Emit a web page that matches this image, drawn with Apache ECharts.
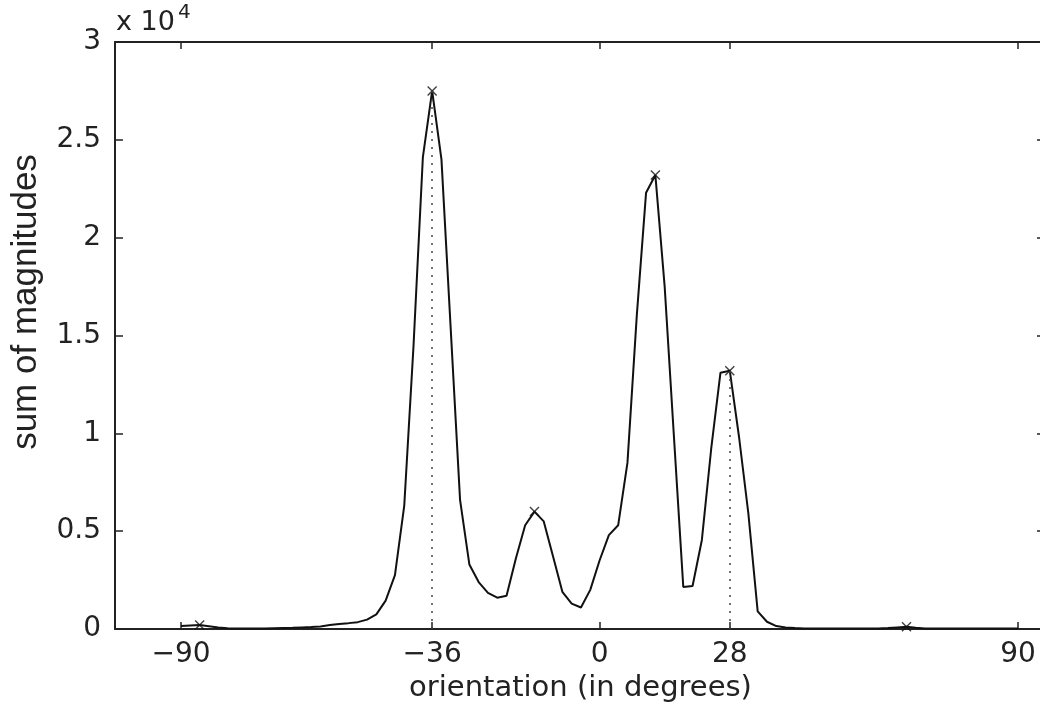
<!DOCTYPE html>
<html>
<head>
<meta charset="utf-8">
<title>orientation histogram</title>
<script src="https://cdn.jsdelivr.net/npm/echarts@6/dist/echarts.min.js"></script>
<style>
    html, body { margin: 0; padding: 0; background: #fff; }
    #main { width: 1040px; height: 704px; }
</style>
</head>
<body>
<div id="main"></div>
<script>
    // orientation bins (degrees), one every 2 degrees from -90 to 90
    var orientation = [
        -90, -88, -86, -84, -82, -80, -78, -76, -74, -72,
        -70, -68, -66, -64, -62, -60, -58, -56, -54, -52,
        -50, -48, -46, -44, -42, -40, -38, -36, -34, -32,
        -30, -28, -26, -24, -22, -20, -18, -16, -14, -12,
        -10, -8, -6, -4, -2, 0, 2, 4, 6, 8,
        10, 12, 14, 16, 18, 20, 22, 24, 26, 28,
        30, 32, 34, 36, 38, 40, 42, 44, 46, 48,
        50, 52, 54, 56, 58, 60, 62, 64, 66, 68,
        70, 72, 74, 76, 78, 80, 82, 84, 86, 88,
        90
    ];
    // summed gradient magnitude per bin (same order as above)
    var magnitude = [
        150, 180, 200, 140, 80, 40, 30, 25, 25, 30,
        40, 50, 60, 80, 100, 130, 200, 260, 300, 350,
        480, 750, 1450, 2750, 6300, 14500, 24100, 27500, 24000, 15300,
        6600, 3300, 2400, 1850, 1600, 1700, 3600, 5300, 6000, 5500,
        3700, 1900, 1300, 1100, 2000, 3500, 4800, 5300, 8500, 16000,
        22300, 23200, 17500, 9800, 2150, 2200, 4550, 9200, 13100, 13200,
        9800, 5900, 900, 370, 150, 80, 50, 30, 20, 20,
        20, 20, 20, 20, 20, 30, 50, 80, 110, 60,
        30, 20, 20, 20, 20, 20, 20, 20, 20, 20,
        20
    ];
    var peakDeg = [-86, -36, -14, 12, 28, 66];
    var dominantDeg = [-36, 28];
    var xTicks = [-90, -36, 0, 28, 90];

    function magAt(deg) { return magnitude[orientation.indexOf(deg)]; }

    var lineData = orientation.map(function (d, i) { return [d, magnitude[i]]; });
    var peakData = peakDeg.map(function (d) { return [d, magAt(d)]; });
    var guideLines = dominantDeg.map(function (d) {
        return [{ coord: [d, 0] }, { coord: [d, magAt(d)] }];
    });

    var font = 'DejaVu Sans';
    var ink = '#222';
    var xMin = -104.2, xMax = 96;

    var myChart = echarts.init(document.getElementById('main'));
    var option = {
        animation: false,
        backgroundColor: '#fff',
        // plot box runs a little past the right edge of the picture
        grid: { left: 115, right: -6, top: 42, bottom: 75, outerBoundsMode: 'none', containLabel: false },
        xAxis: [{
            type: 'value', position: 'bottom', min: xMin, max: xMax,
            axisLine: { show: true, onZero: false, lineStyle: { color: ink, width: 2 } },
            axisTick: { show: true, inside: true, length: 7, customValues: xTicks, lineStyle: { color: ink, width: 1.5 } },
            axisLabel: {
                customValues: xTicks, margin: 12, color: '#222', fontFamily: font, fontSize: 28,
                formatter: function (v) { return String(v).replace('-', '\u2212'); }
            },
            splitLine: { show: false },
            name: 'orientation (in degrees)', nameLocation: 'middle', nameGap: 45,
            nameTextStyle: { color: '#222', fontFamily: font, fontSize: 29 }
        }, {
            type: 'value', position: 'top', min: xMin, max: xMax,
            axisLine: { show: true, onZero: false, lineStyle: { color: ink, width: 2 } },
            axisTick: { show: true, inside: true, length: 7, customValues: xTicks, lineStyle: { color: ink, width: 1.5 } },
            axisLabel: { show: false },
            splitLine: { show: false }
        }],
        yAxis: [{
            type: 'value', position: 'left', min: 0, max: 30000, interval: 5000,
            axisLine: { show: true, onZero: false, lineStyle: { color: ink, width: 2 } },
            axisTick: { show: true, inside: true, length: 8, lineStyle: { color: ink, width: 1.5 } },
            axisLabel: {
                margin: 14, color: '#222', fontFamily: font, fontSize: 28,
                formatter: function (v) { return String(v / 10000); }
            },
            splitLine: { show: false }
        }, {
            type: 'value', position: 'right', min: 0, max: 30000, interval: 5000,
            axisLine: { show: true, onZero: false, lineStyle: { color: ink, width: 2 } },
            axisTick: { show: true, inside: true, length: 9, lineStyle: { color: ink, width: 1.5 } },
            axisLabel: { show: false },
            splitLine: { show: false }
        }],
        graphic: [{
            type: 'text', left: 116, top: 9,
            style: { text: 'x 10', fontFamily: font, fontSize: 27, fill: '#222' }
        }, {
            type: 'text', left: 178, top: 3,
            style: { text: '4', fontFamily: font, fontSize: 20, fill: '#222' }
        }, {
            type: 'text', x: 26, y: 302, rotation: Math.PI / 2,
            style: {
                text: 'sum of magnitudes', fontFamily: 'Liberation Sans', fontSize: 35, fill: '#222',
                align: 'center', verticalAlign: 'middle'
            }
        }],
        series: [{
            type: 'line', data: lineData, showSymbol: false, symbol: 'none',
            lineStyle: { color: '#111', width: 2 }, z: 3
        }, {
            type: 'scatter', data: peakData, symbolSize: 10,
            symbol: 'path://M0,1L1,0L5,4L9,0L10,1L6,5L10,9L9,10L5,6L1,10L0,9L4,5Z',
            itemStyle: { color: '#111' }, z: 4,
            markLine: {
                silent: true, symbol: ['none', 'none'],
                label: { show: false },
                lineStyle: { type: [2, 6], color: '#444', width: 1.5 },
                data: guideLines
            }
        }]
    };
    myChart.setOption(option);
</script>
</body>
</html>
